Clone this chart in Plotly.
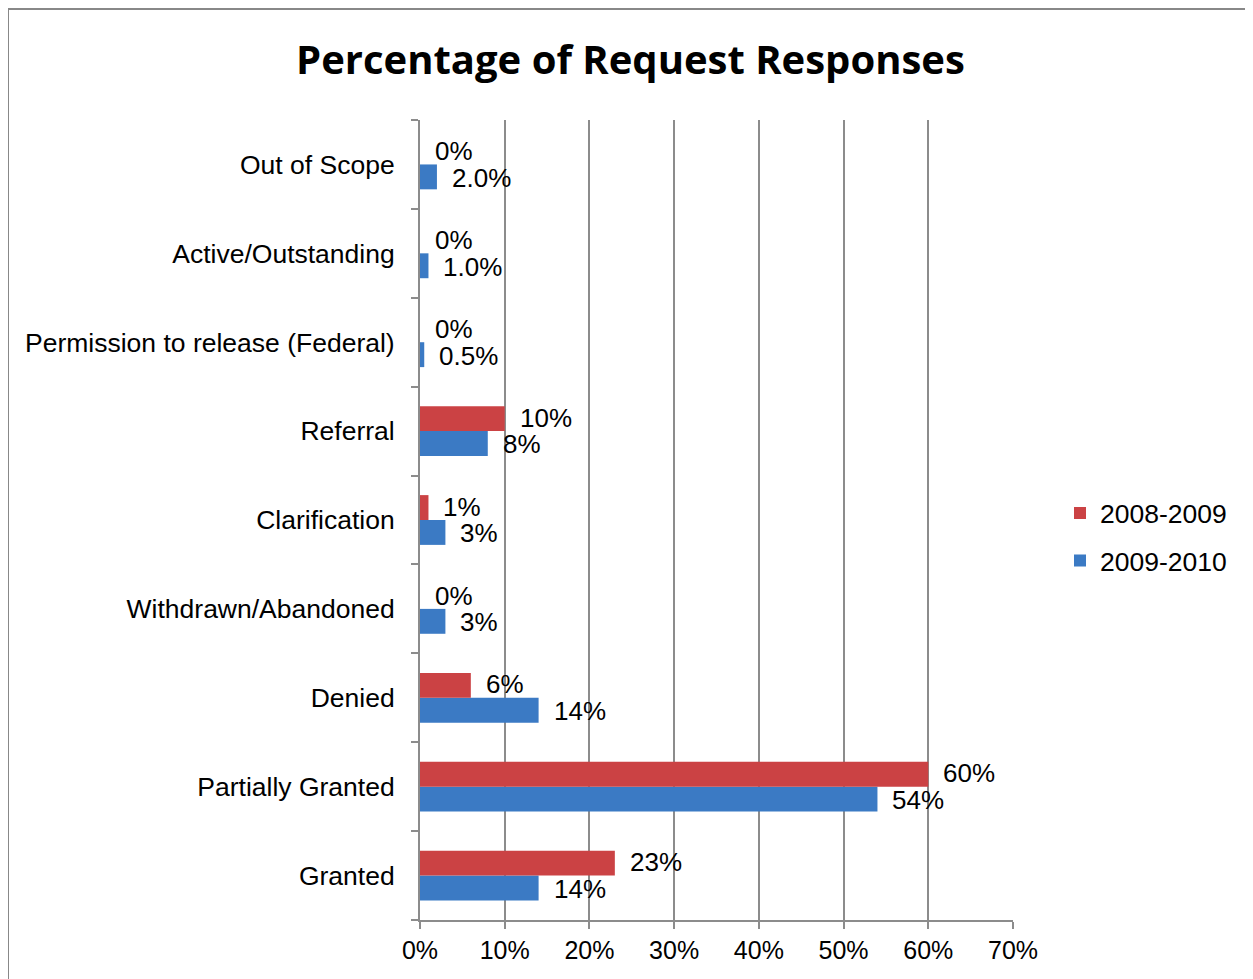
import plotly.graph_objects as go

# Categories listed bottom to top
categories = ["Granted", "Partially Granted", "Denied", "Withdrawn/Abandoned",
              "Clarification", "Referral", "Permission to release (Federal)",
              "Active/Outstanding", "Out of Scope"]
vals_0809 = [23, 60, 6, 0, 1, 10, 0, 0, 0]
vals_0910 = [14, 54, 14, 3, 3, 8, 0.5, 1.0, 2.0]
labels_0809 = ["23%", "60%", "6%", "0%", "1%", "10%", "0%", "0%", "0%"]
labels_0910 = ["14%", "54%", "14%", "3%", "3%", "8%", "0.5%", "1.0%", "2.0%"]
x_ticks = [0, 10, 20, 30, 40, 50, 60, 70]
x_ticklabels = ["0%", "10%", "20%", "30%", "40%", "50%", "60%", "70%"]

FONT = "Liberation Sans, Arial, sans-serif"
RED = "#CB4244"
BLUE = "#3B7AC4"

W, H = 1245, 971
L, R, T, B = 412, 240, 112, 59
PW, PH = W - L - R, H - T - B

fig = go.Figure()
fig.add_trace(go.Bar(
    y=categories, x=vals_0910, orientation="h", name="2009-2010",
    legendgroup="b", legendrank=2, marker=dict(color=BLUE, line=dict(width=0)),
))
fig.add_trace(go.Bar(
    y=categories, x=vals_0809, orientation="h", name="2008-2009",
    legendgroup="a", legendrank=1, marker=dict(color=RED, line=dict(width=0)),
))

annotations = []
for i, cat in enumerate(categories):
    annotations.append(dict(x=vals_0809[i], y=i + 0.15, xref="x", yref="y",
                            text=labels_0809[i], showarrow=False,
                            xanchor="left", yanchor="middle", xshift=13,
                            font=dict(family=FONT, size=26, color="#000")))
    annotations.append(dict(x=vals_0910[i], y=i - 0.15, xref="x", yref="y",
                            text=labels_0910[i], showarrow=False,
                            xanchor="left", yanchor="middle", xshift=13,
                            font=dict(family=FONT, size=26, color="#000")))

fig.update_layout(
    width=W, height=H,
    margin=dict(l=L, r=R, t=T, b=B),
    paper_bgcolor="white", plot_bgcolor="white",
    barmode="group", bargap=0.44, bargroupgap=0,
    title=dict(text="<b>Percentage of Request Responses</b>",
               x=0.5, xref="container", xanchor="center", y=1 - 52 / H, yanchor="middle",
               font=dict(family="Open Sans, sans-serif", size=40, color="#000")),
    font=dict(family=FONT, size=26.5, color="#000"),
    legend=dict(x=(1052 - L) / PW, y=0.479, xanchor="left", yanchor="middle",
                traceorder="grouped", tracegroupgap=10,
                font=dict(family=FONT, size=26.5)),
    annotations=annotations,
    showlegend=True,
)
fig.update_xaxes(range=[0, 70], tickvals=x_ticks, ticktext=x_ticklabels,
                 showgrid=True, gridcolor="#8C8C8C", gridwidth=2,
                 showline=True, linecolor="#8C8C8C", linewidth=2,
                 ticks="outside", ticklen=7, tickcolor="#8C8C8C", tickwidth=2,
                 zeroline=False, tickfont=dict(family=FONT, size=25))
fig.update_yaxes(showgrid=False, showline=True, linecolor="#8C8C8C", linewidth=2,
                 ticks="outside", tickson="boundaries", ticklen=7,
                 tickcolor="#8C8C8C", tickwidth=2, ticklabelstandoff=18,
                 tickfont=dict(family=FONT, size=26.5))

# outer chart frame
fig.add_shape(type="rect", xref="paper", yref="paper",
              x0=(0 - L) / PW, x1=(W + 20 - L) / PW,
              y0=(H - (H + 20) - B) / PH, y1=(H - 1 - B) / PH,
              line=dict(color="#888888", width=2), fillcolor="rgba(0,0,0,0)",
              layer="below")

fig.write_html("out.html")
